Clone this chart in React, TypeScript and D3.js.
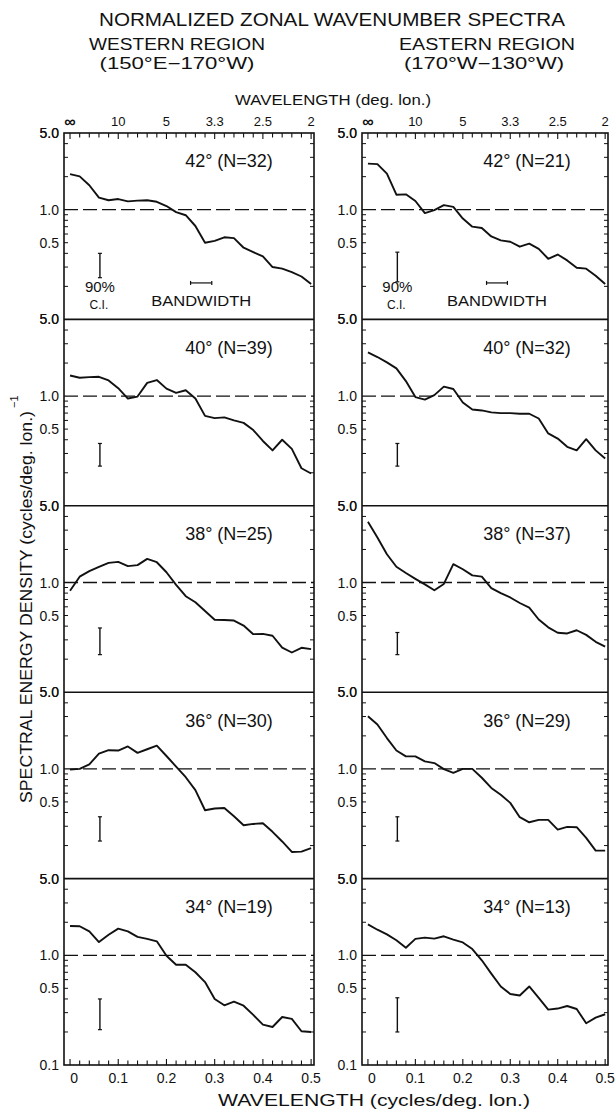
import React from "react";
import * as d3 from "d3";

// ---------- data ----------
const FREQ = [0, 0.02, 0.04, 0.06, 0.08, 0.1, 0.12, 0.14, 0.16, 0.18, 0.2, 0.22, 0.24, 0.26, 0.28, 0.3, 0.32, 0.34, 0.36, 0.38, 0.4, 0.42, 0.44, 0.46, 0.48, 0.5];

const LATITUDES = ["42°", "40°", "38°", "36°", "34°"];
const WEST_N = [32, 39, 25, 30, 19];
const EAST_N = [21, 32, 37, 29, 13];

const WEST_42 = [2.11, 2.01, 1.67, 1.29, 1.22, 1.25, 1.19, 1.21, 1.22, 1.18, 1.08, 0.95, 0.89, 0.71, 0.5, 0.52, 0.56, 0.55, 0.45, 0.41, 0.375, 0.3, 0.29, 0.27, 0.246, 0.21];
const WEST_40 = [1.54, 1.47, 1.49, 1.5, 1.39, 1.18, 0.95, 0.99, 1.32, 1.4, 1.17, 1.07, 1.13, 0.95, 0.66, 0.63, 0.64, 0.6, 0.57, 0.49, 0.39, 0.32, 0.4, 0.33, 0.22, 0.197];
const WEST_38 = [0.84, 1.13, 1.27, 1.39, 1.51, 1.54, 1.41, 1.44, 1.64, 1.53, 1.24, 0.95, 0.75, 0.66, 0.55, 0.457, 0.455, 0.45, 0.405, 0.338, 0.34, 0.327, 0.255, 0.23, 0.254, 0.247];
const WEST_36 = [0.985, 1.0, 1.1, 1.38, 1.48, 1.47, 1.6, 1.4, 1.51, 1.63, 1.31, 1.05, 0.84, 0.64, 0.42, 0.435, 0.44, 0.37, 0.306, 0.315, 0.32, 0.267, 0.218, 0.175, 0.176, 0.19];
const WEST_34 = [1.85, 1.84, 1.65, 1.32, 1.54, 1.75, 1.65, 1.47, 1.41, 1.34, 0.99, 0.82, 0.82, 0.7, 0.57, 0.4, 0.35, 0.378, 0.347, 0.286, 0.233, 0.222, 0.274, 0.263, 0.203, 0.2];

const EAST_42 = [2.63, 2.6, 2.13, 1.37, 1.38, 1.2, 0.93, 0.99, 1.1, 1.06, 0.83, 0.7, 0.68, 0.57, 0.525, 0.51, 0.46, 0.49, 0.44, 0.357, 0.39, 0.345, 0.296, 0.29, 0.25, 0.21];
const EAST_40 = [2.5, 2.27, 2.03, 1.79, 1.37, 0.98, 0.93, 1.02, 1.22, 1.16, 0.875, 0.755, 0.74, 0.71, 0.7, 0.7, 0.69, 0.69, 0.625, 0.457, 0.41, 0.345, 0.32, 0.405, 0.32, 0.27];
const EAST_38 = [3.57, 2.57, 1.81, 1.39, 1.22, 1.08, 0.96, 0.85, 0.97, 1.47, 1.32, 1.16, 1.13, 0.89, 0.8, 0.73, 0.65, 0.59, 0.46, 0.39, 0.348, 0.343, 0.367, 0.333, 0.288, 0.26];
const EAST_36 = [3.02, 2.54, 1.91, 1.47, 1.3, 1.3, 1.17, 1.13, 0.995, 0.92, 1.0, 1.0, 0.83, 0.67, 0.58, 0.49, 0.363, 0.326, 0.343, 0.343, 0.28, 0.296, 0.294, 0.235, 0.18, 0.18];
const EAST_34 = [1.91, 1.71, 1.55, 1.37, 1.17, 1.41, 1.45, 1.42, 1.49, 1.39, 1.31, 1.14, 0.9, 0.68, 0.52, 0.444, 0.43, 0.52, 0.41, 0.32, 0.327, 0.345, 0.324, 0.24, 0.27, 0.29];

const WEST_SERIES = [WEST_42, WEST_40, WEST_38, WEST_36, WEST_34];
const EAST_SERIES = [EAST_42, EAST_40, EAST_38, EAST_36, EAST_34];

// 90% confidence interval bars (low, high)
const WEST_CI_LOW = [0.24, 0.23, 0.22, 0.22, 0.21];
const WEST_CI_HIGH = [0.4, 0.37, 0.385, 0.366, 0.4];
const EAST_CI_LOW = [0.22, 0.23, 0.22, 0.22, 0.2];
const EAST_CI_HIGH = [0.41, 0.37, 0.35, 0.366, 0.41];
const CI_FREQ = 0.062;

const BANDWIDTH_RANGE = [0.25, 0.294];
const BANDWIDTH_LEVEL = 0.215;

const TOP_TICK_LABELS = ["∞", "10", "5", "3.3", "2.5", "2"];
const BOTTOM_TICK_LABELS = ["0", "0.1", "0.2", "0.3", "0.4", "0.5"];
const MAJOR_FREQ = [0, 0.1, 0.2, 0.3, 0.4, 0.5];
const Y_MINOR_TICKS = [4, 3, 2, 0.9, 0.8, 0.7, 0.6, 0.5, 0.4, 0.3, 0.2];
const Y_LABELS = [5, 1, 0.5];

// ---------- layout ----------
const WIDTH = 616;
const HEIGHT = 1112;
const PANEL_TOP = 133;
const PANEL_H = 186.4;
const COLUMNS = [
  { x0: 64, x1: 314, series: WEST_SERIES, n: WEST_N, ciLow: WEST_CI_LOW, ciHigh: WEST_CI_HIGH, labelX: 229 },
  { x0: 362, x1: 608, series: EAST_SERIES, n: EAST_N, ciLow: EAST_CI_LOW, ciHigh: EAST_CI_HIGH, labelX: 527 },
];
const FONT = "'Liberation Sans', Arial, sans-serif";
const INK = "#111";

function Panel({ col, i }: { col: any; i: number }) {
  const top = PANEL_TOP + i * PANEL_H;
  const bottom = top + PANEL_H;
  const x = d3.scaleLinear().domain([-0.0125, 0.506]).range([col.x0, col.x1]);
  const y = d3.scaleLog().domain([0.1, 5]).range([bottom, top]);
  const values: number[] = col.series[i];
  const line = d3
    .line<number>()
    .x((_, k) => x(FREQ[k]))
    .y((v) => y(v))
    .curve(d3.curveLinear);
  const ciX = x(CI_FREQ);
  const labelRight = col.x0 - 5;
  return (
    <g>
      {Y_MINOR_TICKS.map((t) => (
        <g key={t}>
          <line x1={col.x0} x2={col.x0 + 4} y1={y(t)} y2={y(t)} stroke={INK} strokeWidth={1} />
          <line x1={col.x1 - 4} x2={col.x1} y1={y(t)} y2={y(t)} stroke={INK} strokeWidth={1} />
        </g>
      ))}
      <line x1={col.x0} x2={col.x1} y1={y(1)} y2={y(1)} stroke={INK} strokeWidth={1.3} strokeDasharray="14,5" />
      {Y_LABELS.map((t) => (
        <text key={t} x={labelRight} y={y(t)} dy="0.36em" textAnchor="end" fontSize={14} fontFamily={FONT} fill={INK}>
          {t.toFixed(1)}
        </text>
      ))}
      {i === 4 && (
        <text x={labelRight} y={y(0.1)} dy="0.36em" textAnchor="end" fontSize={14} fontFamily={FONT} fill={INK}>
          0.1
        </text>
      )}
      <path d={line(values) || ""} fill="none" stroke={INK} strokeWidth={1.9} strokeLinejoin="round" />
      <line x1={ciX} x2={ciX} y1={y(col.ciLow[i])} y2={y(col.ciHigh[i])} stroke={INK} strokeWidth={1.4} />
      <line x1={ciX - 2} x2={ciX + 2} y1={y(col.ciLow[i])} y2={y(col.ciLow[i])} stroke={INK} strokeWidth={1.2} />
      <line x1={ciX - 2} x2={ciX + 2} y1={y(col.ciHigh[i])} y2={y(col.ciHigh[i])} stroke={INK} strokeWidth={1.2} />
      <text x={col.labelX} y={top + 28} dy="0.36em" textAnchor="middle" fontSize={18} fontFamily={FONT} fill={INK}>
        {`${LATITUDES[i]} (N=${col.n[i]})`}
      </text>
      {i === 0 && (
        <g>
          <text x={ciX} y={top + 154} dy="0.36em" textAnchor="middle" fontSize={15} fontFamily={FONT} fill={INK}>
            90%
          </text>
          <text x={ciX - 1} y={top + 172} dy="0.36em" textAnchor="middle" fontSize={12} fontFamily={FONT} fill={INK}>
            C.I.
          </text>
          <line x1={x(BANDWIDTH_RANGE[0])} x2={x(BANDWIDTH_RANGE[1])} y1={y(BANDWIDTH_LEVEL)} y2={y(BANDWIDTH_LEVEL)} stroke={INK} strokeWidth={1.2} />
          <line x1={x(BANDWIDTH_RANGE[0])} x2={x(BANDWIDTH_RANGE[0])} y1={y(BANDWIDTH_LEVEL) - 2} y2={y(BANDWIDTH_LEVEL) + 2} stroke={INK} strokeWidth={1.2} />
          <line x1={x(BANDWIDTH_RANGE[1])} x2={x(BANDWIDTH_RANGE[1])} y1={y(BANDWIDTH_LEVEL) - 2} y2={y(BANDWIDTH_LEVEL) + 2} stroke={INK} strokeWidth={1.2} />
          <text
            x={(x(BANDWIDTH_RANGE[0]) + x(BANDWIDTH_RANGE[1])) / 2}
            y={top + 168}
            dy="0.36em"
            textAnchor="middle"
            fontSize={15}
            fontFamily={FONT}
            fill={INK}
            textLength={100}
            lengthAdjust="spacingAndGlyphs"
          >
            BANDWIDTH
          </text>
        </g>
      )}
    </g>
  );
}

function Column({ col }: { col: any }) {
  const x = d3.scaleLinear().domain([-0.0125, 0.506]).range([col.x0, col.x1]);
  const top = PANEL_TOP;
  const bottom = PANEL_TOP + 5 * PANEL_H;
  const tickFreqs = d3.range(0, 0.5001, 0.02);
  return (
    <g>
      {[0, 1, 2, 3, 4].map((i) => (
        <Panel key={i} col={col} i={i} />
      ))}
      <rect x={col.x0} y={top} width={col.x1 - col.x0} height={bottom - top} fill="none" stroke={INK} strokeWidth={1.6} />
      {[1, 2, 3, 4].map((i) => (
        <line key={i} x1={col.x0} x2={col.x1} y1={top + i * PANEL_H} y2={top + i * PANEL_H} stroke={INK} strokeWidth={1.6} />
      ))}
      {tickFreqs.map((f, k) => (
        <g key={k}>
          <line x1={x(f)} x2={x(f)} y1={top} y2={top + (k % 5 === 0 ? 6 : 4.5)} stroke={INK} strokeWidth={1.1} />
          <line x1={x(f)} x2={x(f)} y1={bottom} y2={bottom - (k % 5 === 0 ? 6 : 4.5)} stroke={INK} strokeWidth={1.1} />
        </g>
      ))}
      {MAJOR_FREQ.map((f, k) => (
        <text key={"t" + k} x={x(f)} y={121} dy="0.36em" textAnchor="middle" fontSize={k === 0 ? 16 : 13} fontWeight={k === 0 ? "bold" : "normal"} fontFamily={FONT} fill={INK}>
          {TOP_TICK_LABELS[k]}
        </text>
      ))}
      {MAJOR_FREQ.map((f, k) => (
        <text key={"b" + k} x={x(f) + (k === 0 ? 4 : 0)} y={1078} dy="0.36em" textAnchor="middle" fontSize={14} fontFamily={FONT} fill={INK}>
          {BOTTOM_TICK_LABELS[k]}
        </text>
      ))}
    </g>
  );
}

export default function App() {
  return (
    <svg
      width={WIDTH}
      height={HEIGHT}
      viewBox={`0 0 ${WIDTH} ${HEIGHT}`}
      style={{ position: "absolute", left: 0, top: 0, display: "block", background: "#fff" }}
    >
      <rect x={0} y={0} width={WIDTH} height={HEIGHT} fill="#fff" />
      <text x={332} y={19} dy="0.36em" textAnchor="middle" fontSize={19} fontFamily={FONT} fill={INK} textLength={466} lengthAdjust="spacingAndGlyphs">
        NORMALIZED ZONAL WAVENUMBER SPECTRA
      </text>
      <text x={177} y={44} dy="0.36em" textAnchor="middle" fontSize={16} fontFamily={FONT} fill={INK} textLength={176} lengthAdjust="spacingAndGlyphs">
        WESTERN REGION
      </text>
      <text x={177} y={63} dy="0.36em" textAnchor="middle" fontSize={16} fontFamily={FONT} fill={INK} textLength={155} lengthAdjust="spacingAndGlyphs">
        (150°E−170°W)
      </text>
      <text x={487} y={44} dy="0.36em" textAnchor="middle" fontSize={16} fontFamily={FONT} fill={INK} textLength={176} lengthAdjust="spacingAndGlyphs">
        EASTERN REGION
      </text>
      <text x={484} y={63} dy="0.36em" textAnchor="middle" fontSize={16} fontFamily={FONT} fill={INK} textLength={160} lengthAdjust="spacingAndGlyphs">
        (170°W−130°W)
      </text>
      <text x={333} y={100} dy="0.36em" textAnchor="middle" fontSize={15} fontFamily={FONT} fill={INK} textLength={196} lengthAdjust="spacingAndGlyphs">
        WAVELENGTH (deg. lon.)
      </text>

      {COLUMNS.map((col, c) => (
        <Column key={c} col={col} />
      ))}

      {COLUMNS.map((col, c) =>
        [0, 1, 2, 3, 4].map((i) => (
          <text key={`${c}-${i}`} x={col.x0 - 5} y={PANEL_TOP + i * PANEL_H} dy="0.36em" textAnchor="end" fontSize={14} fontFamily={FONT} fill={INK}>
            5.0
          </text>
        ))
      )}

      <g transform="translate(32,803) rotate(-90)">
        <text x={0} y={0} fontSize={17} fontFamily={FONT} fill={INK} textLength={392} lengthAdjust="spacingAndGlyphs">
          SPECTRAL ENERGY DENSITY (cycles/deg. lon.)
        </text>
        <text x={395} y={-14} fontSize={11} fontFamily={FONT} fill={INK}>
          −1
        </text>
      </g>

      <text x={374} y={1100} dy="0.36em" textAnchor="middle" fontSize={16} fontFamily={FONT} fill={INK} textLength={312} lengthAdjust="spacingAndGlyphs">
        WAVELENGTH (cycles/deg. lon.)
      </text>
    </svg>
  );
}
